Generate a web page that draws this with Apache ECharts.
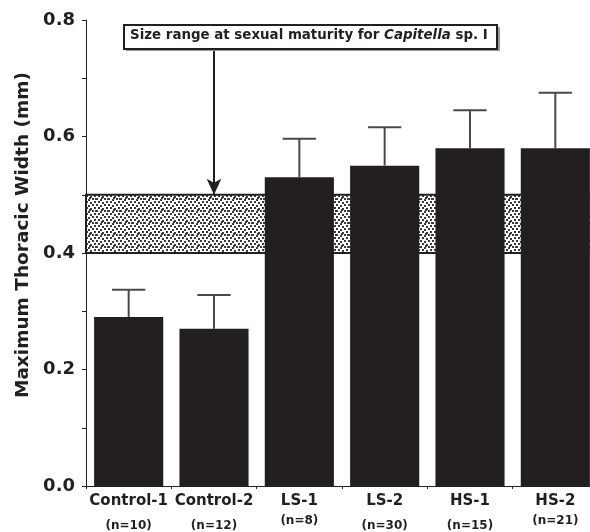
<!DOCTYPE html>
<html>
<head>
<meta charset="utf-8">
<script src="https://cdn.jsdelivr.net/npm/echarts@6/dist/echarts.min.js"></script>
<style>html,body{margin:0;padding:0;background:#fff;overflow:hidden}#c{width:598px;height:532px}</style>
</head>
<body>
<div id="c"></div>
<script>
// ---- data ----
var categories = ['Control-1', 'Control-2', 'LS-1', 'LS-2', 'HS-1', 'HS-2'];
var nLabels = ['(n=10)', '(n=12)', '(n=8)', '(n=30)', '(n=15)', '(n=21)'];
var liftedN = [false, false, true, false, false, true];
var means = [0.29, 0.27, 0.53, 0.55, 0.58, 0.58];
var upperErr = [0.337, 0.328, 0.596, 0.616, 0.645, 0.675];
var bandRange = [0.4, 0.5];
var arrowFrom = 0.752;
var yMin = 0, yMax = 0.8, yInterval = 0.1;
var yLabelStep = 0.2;
var yTitle = 'Maximum Thoracic Width (mm)';

var FONT = "'DejaVu Sans', 'Liberation Sans', Arial, sans-serif";

// stipple pattern
function makePattern() {
  var c = document.createElement('canvas');
  c.width = 12; c.height = 12;
  var g = c.getContext('2d');
  g.fillStyle = '#ffffff';
  g.fillRect(0, 0, 12, 12);
  g.fillStyle = '#3a3a3a';
  var dots = [[0,0],[4,1],[8,0],[2,3],[6,4],[10,3],[0,6],[4,7],[8,6],[2,9],[6,10],[10,9],[11,6],[5,5]];
  dots.forEach(function (d) { g.fillRect(d[0], d[1], 2, 2); });
  return c;
}

var chart = echarts.init(document.getElementById('c'), null, { renderer: 'canvas' });

var option = {
  animation: false,
  grid: { left: 86, top: 20, right: 0, bottom: 45, containLabel: false },
  xAxis: {
    type: 'category',
    data: categories,
    boundaryGap: true,
    axisLine: { show: true, lineStyle: { color: '#231f20', width: 1 } },
    axisTick: { show: true, length: 3, lineStyle: { color: '#231f20' } },
    axisLabel: {
      interval: 0,
      margin: 5,
      formatter: function (v, i) {
        return '{a|' + v + '}\n{' + (liftedN[i] ? 'c' : 'b') + '|' + nLabels[i] + '}';
      },
      rich: {
        a: { fontFamily: FONT, fontWeight: 'bold', fontSize: 15, color: '#231f20', lineHeight: 20 },
        b: { fontFamily: FONT, fontWeight: 'bold', fontSize: 12, color: '#231f20', lineHeight: 30 },
        c: { fontFamily: FONT, fontWeight: 'bold', fontSize: 12, color: '#231f20', lineHeight: 20 }
      }
    },
    splitLine: { show: false }
  },
  yAxis: {
    type: 'value',
    min: yMin, max: yMax, interval: yInterval,
    name: yTitle,
    nameLocation: 'middle',
    nameGap: 49,
    nameTextStyle: { fontFamily: FONT, fontWeight: 'bold', fontSize: 18.5, color: '#231f20', padding: [0, 0, 0, 36] },
    axisLine: { show: true, lineStyle: { color: '#231f20', width: 1 } },
    axisTick: { show: true, length: 4, lineStyle: { color: '#231f20' } },
    axisLabel: {
      margin: 11,
      fontFamily: FONT, fontWeight: 'bold', fontSize: 18, color: '#231f20',
      formatter: function (v) {
        var k = Math.round(v / yInterval);
        var step = Math.round(yLabelStep / yInterval);
        return (k % step === 0) ? v.toFixed(1) : '';
      }
    },
    splitLine: { show: false }
  },
  series: [
    {
      type: 'line',
      data: [],
      z: 1,
      silent: true,
      markArea: {
        silent: true,
        itemStyle: {
          color: { image: makePattern(), repeat: 'repeat' },
          borderColor: '#231f20',
          borderWidth: 2
        },
        data: [[{ yAxis: bandRange[0] }, { yAxis: bandRange[1] }]]
      }
    },
    {
      type: 'bar',
      data: means,
      z: 3,
      barWidth: '81%',
      itemStyle: { color: '#231f20' },
      markLine: {
        silent: true,
        symbol: ['none', 'arrow'],
        symbolSize: [11, 16],
        label: { show: false },
        lineStyle: { color: '#231f20', width: 2, type: 'solid' },
        data: [[
          { coord: [categories[1], arrowFrom] },
          { coord: [categories[1], bandRange[1]] }
        ]]
      }
    },
    {
      type: 'custom',
      z: 4,
      data: categories.map(function (c, i) { return [i, means[i], upperErr[i]]; }),
      renderItem: function (params, api) {
        var top = api.coord([api.value(0), api.value(2)]);
        var base = api.coord([api.value(0), api.value(1)]);
        var bw = api.size([1, 0])[0] * 0.39;
        var half = bw / 2;
        var st = { stroke: '#4a4a4a', lineWidth: 2 };
        return {
          type: 'group',
          children: [
            { type: 'line', shape: { x1: base[0], y1: base[1], x2: top[0], y2: top[1] }, style: st },
            { type: 'line', shape: { x1: top[0] - half, y1: top[1], x2: top[0] + half, y2: top[1] }, style: st }
          ]
        };
      }
    }
  ],
  graphic: [
    { type: 'rect', left: 126, top: 27, shape: { width: 374, height: 24 }, style: { fill: '#9a9a9a' }, z: 10 },
    { type: 'rect', left: 123, top: 24, shape: { width: 373, height: 24 }, style: { fill: '#ffffff', stroke: '#231f20', lineWidth: 2 }, z: 11 },
    {
      type: 'text', left: 130, top: 29, z: 12,
      style: {
        text: '{b|Size range at sexual maturity for }{i|Capitella}{b| sp. I}',
        rich: {
          b: { fontFamily: FONT, fontWeight: 'bold', fontSize: 13.4, fill: '#231f20' },
          i: { fontFamily: FONT, fontWeight: 'bold', fontStyle: 'italic', fontSize: 13.4, fill: '#231f20' }
        }
      }
    }
  ]
};
chart.setOption(option);
</script>
</body>
</html>
